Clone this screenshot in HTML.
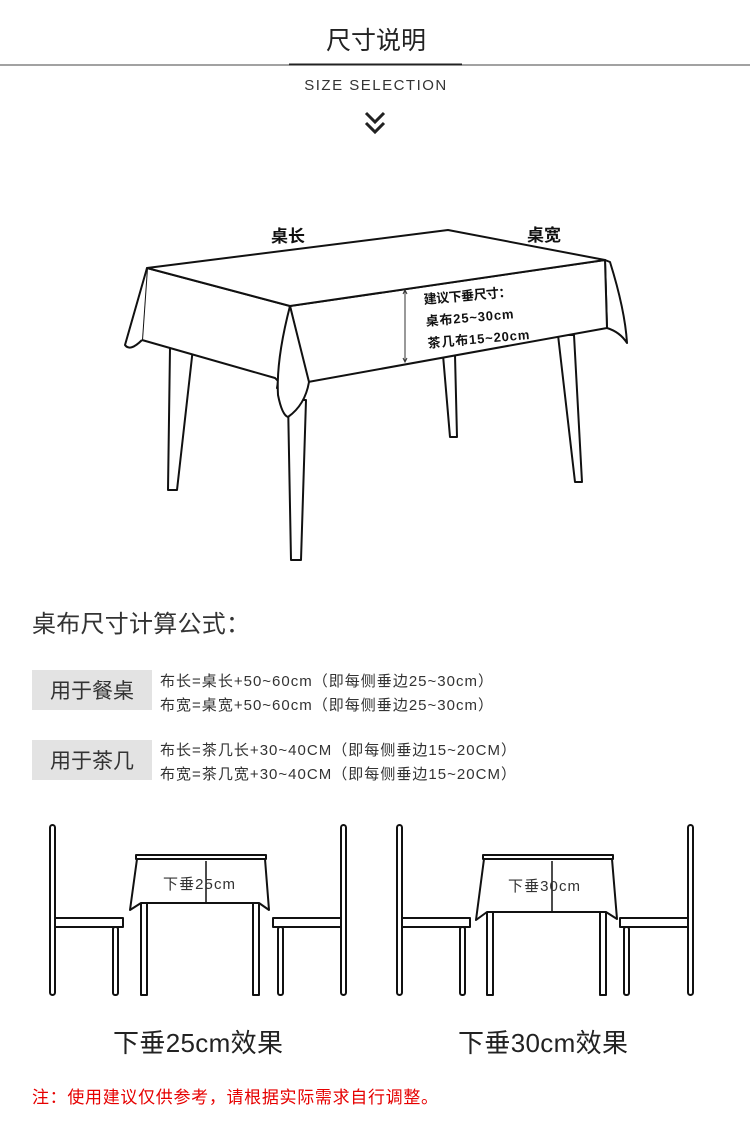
<!DOCTYPE html>
<html><head><meta charset="utf-8"><style>
html,body{margin:0;padding:0;background:#fff;}
svg{display:block;}
text{font-family:"Liberation Sans","Noto Sans CJK SC",sans-serif;}
</style></head><body>
<svg width="750" height="1141" viewBox="0 0 750 1141" xmlns="http://www.w3.org/2000/svg">
<rect width="750" height="1141" fill="#fff"/>
<text x="376" y="49" font-size="25" text-anchor="middle" fill="#222">尺寸说明</text>
<line x1="0" y1="65" x2="750" y2="65" stroke="#444" stroke-width="1"/>
<line x1="289" y1="64.5" x2="462" y2="64.5" stroke="#222" stroke-width="2"/>
<text x="376" y="90" font-size="15" text-anchor="middle" fill="#333" letter-spacing="1.5">SIZE SELECTION</text>
<polyline points="366,113 375,122 384,113" fill="none" stroke="#222" stroke-width="3"/>
<polyline points="366,123 375,132 384,123" fill="none" stroke="#222" stroke-width="3"/>

<g fill="#fff" stroke="#111" stroke-width="2" stroke-linejoin="round">
<path d="M170,348 L193,348 L177,490 L168,490 Z"/>
<path d="M443,355 L455,355 L457,437 L450,437 Z"/>
<path d="M558,335 L574,335 L582,482 L575,482 Z"/>
<path d="M288,400 L306,400 L301,560 L291,560 Z"/>
<path d="M147,268 L142,340 L275,378 Q283,385 277,388 L290,306 Z"/>
<path d="M147,268 Q132,320 125,345 Q130,352 142,340"/>
<path d="M605,260 L607,328 Q620,332 627,343 Q625,310 610,262 Z"/>
<path d="M290,306 L605,260 L607,328 L308,382 Z"/>
<path d="M290,306 Q276,360 278,395 Q282,415 288,417 Q305,405 309,382 Z"/>
<path d="M147,268 L448,230 L605,260 L290,306 Z"/>
</g>
<line x1="405" y1="291" x2="405" y2="362" stroke="#333" stroke-width="1"/>
<polyline points="403,294 405,290 407,294" fill="none" stroke="#333" stroke-width="1"/>
<polyline points="403,358 405,362 407,358" fill="none" stroke="#333" stroke-width="1"/>
<text x="271" y="242" font-size="17" font-weight="bold" fill="#111">桌长</text>
<text x="527" y="241" font-size="17" font-weight="bold" fill="#111">桌宽</text>
<g transform="rotate(-5 424 302)" font-size="13" font-weight="bold" fill="#111">
<text x="424" y="304" textLength="88">建议下垂尺寸：</text>
<text x="424" y="326" textLength="88">桌布25~30cm</text>
<text x="424" y="348" textLength="102">茶几布15~20cm</text>
</g>

<text x="32" y="632" font-size="24" fill="#333" textLength="218">桌布尺寸计算公式：</text>
<rect x="32" y="670" width="120" height="40" fill="#e3e3e3"/>
<text x="92" y="698" font-size="21" fill="#333" text-anchor="middle">用于餐桌</text>
<text x="160" y="686" font-size="15" fill="#333" textLength="333">布长=桌长+50~60cm（即每侧垂边25~30cm）</text>
<text x="160" y="710" font-size="15" fill="#333" textLength="333">布宽=桌宽+50~60cm（即每侧垂边25~30cm）</text>
<rect x="32" y="740" width="120" height="40" fill="#e3e3e3"/>
<text x="92" y="768" font-size="21" fill="#333" text-anchor="middle">用于茶几</text>
<text x="160" y="755" font-size="15" fill="#333" textLength="356">布长=茶几长+30~40CM（即每侧垂边15~20CM）</text>
<text x="160" y="779" font-size="15" fill="#333" textLength="356">布宽=茶几宽+30~40CM（即每侧垂边15~20CM）</text>

<g fill="#fff" stroke="#111" stroke-width="2" stroke-linejoin="round">
<rect x="50" y="825" width="5" height="170" rx="2.5"/>
<rect x="113" y="927" width="5" height="68" rx="2"/>
<rect x="55" y="918" width="68" height="9"/>
<rect x="341" y="825" width="5" height="170" rx="2.5"/>
<rect x="278" y="927" width="5" height="68" rx="2"/>
<rect x="273" y="918" width="68" height="9"/>
<rect x="141" y="903" width="6" height="92"/>
<rect x="253" y="903" width="6" height="92"/>
<path d="M137,859 L265,859 L269,910 L259,903 L141,903 L130,910 Z"/>
<rect x="136" y="855" width="130" height="4"/>
<rect x="397" y="825" width="5" height="170" rx="2.5"/>
<rect x="460" y="927" width="5" height="68" rx="2"/>
<rect x="402" y="918" width="68" height="9"/>
<rect x="688" y="825" width="5" height="170" rx="2.5"/>
<rect x="624" y="927" width="5" height="68" rx="2"/>
<rect x="620" y="918" width="68" height="9"/>
<rect x="487" y="912" width="6" height="83"/>
<rect x="600" y="912" width="6" height="83"/>
<path d="M484,859 L612,859 L617,919 L606,912 L487,912 L476,920 Z"/>
<rect x="483" y="855" width="130" height="4"/>
</g>
<line x1="206" y1="861" x2="206" y2="902" stroke="#111" stroke-width="1.5"/>
<line x1="552" y1="861" x2="552" y2="911" stroke="#111" stroke-width="1.5"/>
<text x="163" y="889" font-size="15" fill="#333" textLength="72">下垂25cm</text>
<text x="508" y="891" font-size="15" fill="#333" textLength="72">下垂30cm</text>
<text x="113" y="1052" font-size="26" fill="#222" textLength="170">下垂25cm效果</text>
<text x="458" y="1052" font-size="26" fill="#222" textLength="170">下垂30cm效果</text>
<text x="32" y="1103" font-size="17" fill="#e60000" textLength="406">注：使用建议仅供参考，请根据实际需求自行调整。</text>
</svg>
</body></html>
